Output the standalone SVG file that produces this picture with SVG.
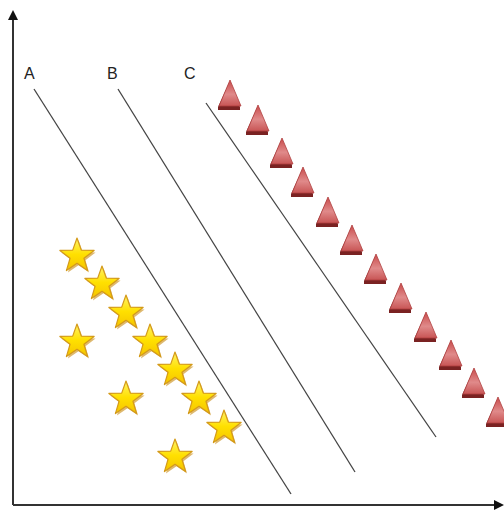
<svg xmlns="http://www.w3.org/2000/svg" xmlns:xlink="http://www.w3.org/1999/xlink" width="504" height="510" viewBox="0 0 504 510">
<style>
.axis{stroke:#333;stroke-width:2;fill:none}
.ln{stroke:#444;stroke-width:1.3;fill:none}
.lbl{font-family:"Liberation Sans",Arial,sans-serif;font-size:16px;fill:#222}
</style>
<defs>
<marker id="ah" markerWidth="10" markerHeight="10" refX="8" refY="5" orient="auto" markerUnits="userSpaceOnUse">
<path d="M0,0 L10,5 L0,10 Z" fill="#111"/>
</marker>
<linearGradient id="sg" x1="0" y1="0" x2="0" y2="1">
<stop offset="0" stop-color="#fff36a"/>
<stop offset="0.5" stop-color="#ffe000"/>
<stop offset="1" stop-color="#f5c400"/>
</linearGradient>
<linearGradient id="tg" x1="0" y1="0" x2="0" y2="1">
<stop offset="0" stop-color="#c84a4a"/>
<stop offset="0.55" stop-color="#e08a8a"/>
<stop offset="1" stop-color="#c85555"/>
</linearGradient>
<g id="star">
<path d="M1.5,-16 L5.8,-3.9 L18.6,-3.6 L8.4,4.3 L12.1,16.6 L1.5,9.3 L-9.1,16.6 L-5.4,4.3 L-15.6,-3.6 L-2.8,-3.9 Z" fill="#c88a10" opacity="0.6"/>
<path d="M0,-18 L4.29,-5.91 L17.12,-5.56 L6.94,2.26 L10.58,14.56 L0,7.3 L-10.58,14.56 L-6.94,2.26 L-17.12,-5.56 L-4.29,-5.91 Z" fill="url(#sg)" stroke="#d49a1a" stroke-width="1.2" stroke-linejoin="round"/>
</g>
<g id="tri">
<path d="M-1,-12 L-12,12 L-12,15 L10,15 L10,12 Z" fill="#7a2222"/>
<path d="M0,-15 L-11,11 L11,11 Z" fill="url(#tg)" stroke="#b04040" stroke-width="0.8"/>
</g>
</defs>

<g id="axes">
<line class="axis" x1="13" y1="505" x2="13" y2="12" marker-end="url(#ah)"/>
<line class="axis" x1="13" y1="505" x2="502" y2="505" marker-end="url(#ah)"/>
</g>

<g id="connectors">
<line id="lineA" class="ln" x1="34" y1="89" x2="291" y2="494"/>
<line id="lineB" class="ln" x1="118" y1="89" x2="355" y2="472"/>
<line id="lineC" class="ln" x1="206" y1="103" x2="436" y2="437"/>
</g>

<g id="labels">
<text class="lbl" x="24" y="79">A</text>
<text class="lbl" x="107" y="79">B</text>
<text class="lbl" x="184" y="79">C</text>
</g>

<g id="triangles">
<use xlink:href="#tri" x="230" y="95"/>
<use xlink:href="#tri" x="258" y="120"/>
<use xlink:href="#tri" x="282" y="153"/>
<use xlink:href="#tri" x="303" y="182"/>
<use xlink:href="#tri" x="328" y="212"/>
<use xlink:href="#tri" x="352" y="240"/>
<use xlink:href="#tri" x="376" y="269"/>
<use xlink:href="#tri" x="401" y="298"/>
<use xlink:href="#tri" x="426" y="327"/>
<use xlink:href="#tri" x="451" y="355"/>
<use xlink:href="#tri" x="474" y="383"/>
<use xlink:href="#tri" x="498" y="412"/>
</g>

<g id="stars">
<use xlink:href="#star" x="77" y="256"/>
<use xlink:href="#star" x="102" y="284"/>
<use xlink:href="#star" x="126" y="313"/>
<use xlink:href="#star" x="150" y="342"/>
<use xlink:href="#star" x="175" y="370"/>
<use xlink:href="#star" x="199" y="399"/>
<use xlink:href="#star" x="224" y="428"/>
<use xlink:href="#star" x="77" y="342"/>
<use xlink:href="#star" x="126" y="399"/>
<use xlink:href="#star" x="175" y="457"/>
</g>
</svg>
